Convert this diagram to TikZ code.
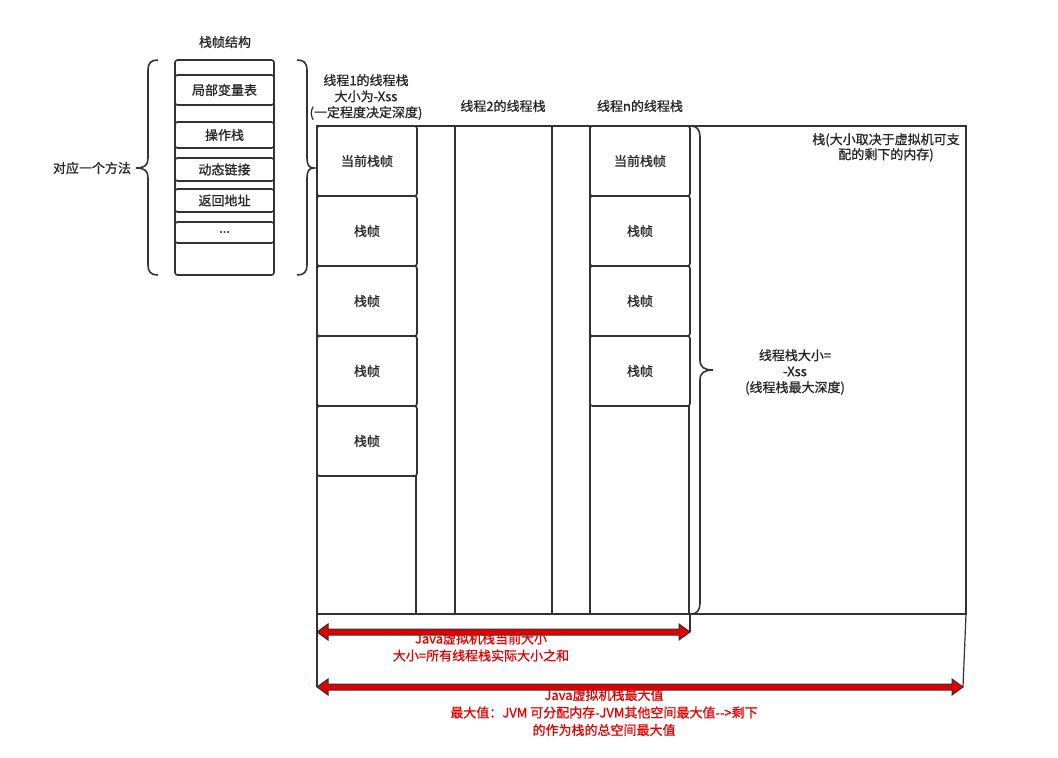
\documentclass[tikz,border=0pt]{standalone}
\usepackage{fontspec}
\newfontfamily\cjk[FakeBold=0.8]{Noto Sans CJK SC}
\definecolor{ln}{HTML}{333333}
\definecolor{redtxt}{RGB}{230,0,0}
\definecolor{redfill}{RGB}{225,0,0}
\begin{document}
\begin{tikzpicture}[x=1pt,y=-1pt,
  txt/.style={font=\cjk\fontsize{13}{16}\selectfont, text=black!85, align=center, inner sep=0pt},
  rtxt/.style={font=\cjk\fontsize{13}{17.5}\selectfont, text=redtxt, align=center, inner sep=0pt},
  box/.style={draw=ln, line width=1.6pt, rounded corners=2.5pt},
  sq/.style={draw=ln, line width=1.6pt},
  brace/.style={draw=ln, line width=1.6pt},
  thin/.style={draw=ln, line width=1.2pt},
  darr/.style={fill=redfill, draw=ln, line width=1pt, line join=miter}
]
\useasboundingbox (0,0) rectangle (1058,758);
\fill[white] (0,0) rectangle (1058,758);

% ---------- stack frame structure ----------
\node[txt] (title) at (225,42) {栈帧结构};
\draw[box] (175,60) rectangle (274,275);
\draw[box] (175,75) rectangle (274,105);
\node[txt] (lv) at (224.5,90) {局部变量表};
\draw[box] (175,122) rectangle (274,148);
\node[txt] (op) at (224.5,135) {操作栈};
\draw[box] (175,158) rectangle (274,181);
\node[txt] (dl) at (224.5,169.5) {动态链接};
\draw[box] (175,189) rectangle (274,212);
\node[txt] (ra) at (224.5,200.5) {返回地址};
\draw[box] (175,222) rectangle (274,243);
\node[txt] (dots) at (224.5,232) {...};

% left brace
\draw[brace] (158,60) .. controls (151,60) and (148,63) .. (148,70) -- (148,158)
  .. controls (148,165) and (145,168) .. (136,168)
  .. controls (145,168) and (148,171) .. (148,178) -- (148,265)
  .. controls (148,272) and (151,275) .. (158,275);
\node[txt] (method) at (92,168) {对应一个方法};
% right brace
\draw[brace] (297,60) .. controls (304,60) and (307,63) .. (307,70) -- (307,158)
  .. controls (307,165) and (309,168) .. (314,168)
  .. controls (309,168) and (307,171) .. (307,178) -- (307,265)
  .. controls (307,272) and (304,275) .. (297,275);

% ---------- big stack rectangle ----------
\draw[sq] (317,126) rectangle (966,614);
\node[txt, font=\cjk\fontsize{13}{15}\selectfont] (stack) at (886,147.5) {栈(大小取决于虚拟机可支\\配的剩下的内存)};

% thread 1
\draw[sq] (317,126) rectangle (416,614);
\node[txt] (t1) at (366,97) {线程1的线程栈\\大小为-Xss\\(一定程度决定深度)};
\draw[box,fill=white] (317,126) rectangle (417,196);
\node[txt] (f11) at (367,161) {当前栈帧};
\draw[box,fill=white] (317,196) rectangle (417,266);
\node[txt] (f12) at (367,231) {栈帧};
\draw[box,fill=white] (317,266) rectangle (417,336);
\node[txt] (f13) at (367,301) {栈帧};
\draw[box,fill=white] (317,336) rectangle (417,406);
\node[txt] (f14) at (367,371) {栈帧};
\draw[box,fill=white] (317,406) rectangle (417,476);
\node[txt] (f15) at (367,441) {栈帧};

% thread 2
\draw[sq] (455,126) rectangle (552,614);
\node[txt] (t2) at (503,106) {线程2的线程栈};

% thread n
\draw[sq] (590,126) rectangle (689,614);
\node[txt] (tn) at (640,106) {线程n的线程栈};
\draw[box,fill=white] (590,126) rectangle (690,196);
\node[txt] (fn1) at (640,161) {当前栈帧};
\draw[box,fill=white] (590,196) rectangle (690,266);
\node[txt] (fn2) at (640,231) {栈帧};
\draw[box,fill=white] (590,266) rectangle (690,336);
\node[txt] (fn3) at (640,301) {栈帧};
\draw[box,fill=white] (590,336) rectangle (690,406);
\node[txt] (fn4) at (640,371) {栈帧};

% brace for thread n
\draw[brace] (691,126) .. controls (697,126) and (700,130) .. (700,137) -- (700,360)
  .. controls (700,367) and (704,370) .. (713,370)
  .. controls (704,370) and (700,373) .. (700,380) -- (700,603)
  .. controls (700,610) and (697,614) .. (691,614);
\node[txt] (tsz) at (795,372) {线程栈大小=\\-Xss\\(线程栈最大深度)};

% ---------- dimension lines ----------
\coordinate (a1) at (317,614);
\coordinate (a2) at (317,687);
\coordinate (b1) at (690,614);
\coordinate (b2) at (690,632);
\coordinate (c1) at (966,614);
\coordinate (c2) at (963,687);
\draw[thin] (a1) -- (a2);
\draw[thin] (b1) -- (b2);
\draw[thin] (c1) -- (c2);

% arrow 1
\draw[darr] (317,632) -- (328,624) -- (328,629) -- (679,629) -- (679,624) -- (690,632)
  -- (679,640) -- (679,635) -- (328,635) -- (328,640) -- cycle;
% arrow 2
\draw[darr] (317,687) -- (328,679) -- (328,684) -- (952,684) -- (952,679) -- (963,687)
  -- (952,695) -- (952,690) -- (328,690) -- (328,695) -- cycle;

\node[rtxt, font=\cjk\fontsize{13}{17}\selectfont] (cur) at (481,647) {Java虚拟机栈当前大小\\大小=所有线程栈实际大小之和};
\node[rtxt] (max) at (604,712.5) {Java虚拟机栈最大值\\最大值：JVM 可分配内存-JVM其他空间最大值-->剩下\\的作为栈的总空间最大值};
\end{tikzpicture}
\end{document}
